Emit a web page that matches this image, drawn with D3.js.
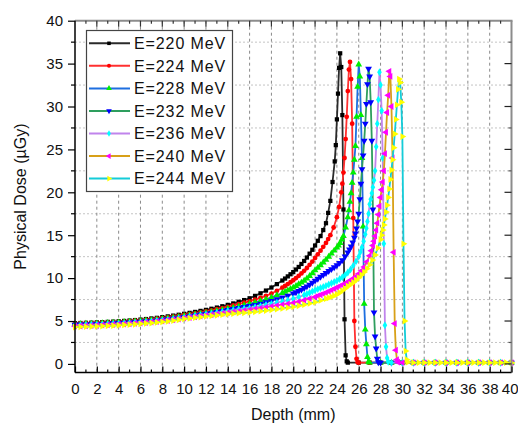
<!DOCTYPE html>
<html><head><meta charset="utf-8">
<script src="https://cdn.jsdelivr.net/npm/d3@7"></script>
<style>
html,body{margin:0;padding:0;background:#fff;}
svg text{font-family:"Liberation Sans",Arial,sans-serif;}
</style></head>
<body><svg id="c" width="518" height="426"></svg>
<script>
// ---------- data (depth mm, dose µGy) ----------
const energies = ["E=220 MeV","E=224 MeV","E=228 MeV","E=232 MeV","E=236 MeV","E=240 MeV","E=244 MeV"];
const xMajorTicks = [0,2,4,6,8,10,12,14,16,18,20,22,24,26,28,30,32,34,36,38,40];
const yMajorTicks = [0,5,10,15,20,25,30,35,40];

const e220 = [[0,4.75],[0.5,4.77],[1,4.79],[1.5,4.81],[2,4.84],[2.5,4.87],[3,4.9],[3.5,4.93],[4,4.97],[4.5,5.01],[5,5.06],[5.5,5.11],[6,5.17],[6.5,5.23],[7,5.3],[7.5,5.37],[8,5.45],[8.5,5.54],[9,5.63],[9.5,5.73],[10,5.84],[10.5,5.95],[11,6.06],[11.5,6.18],[12,6.3],[12.5,6.43],[13,6.57],[13.5,6.72],[14,6.88],[14.5,7.05],[15,7.24],[15.5,7.44],[16,7.65],[16.5,7.93],[17,8.23],[17.5,8.55],[18,8.9],[18.5,9.3],[19,9.72],[19.25,9.95],[19.5,10.2],[19.75,10.45],[20,10.7],[20.25,11.0],[20.5,11.3],[20.75,11.65],[21,12.0],[21.25,12.4],[21.5,12.85],[21.75,13.3],[22,13.8],[22.25,14.35],[22.5,14.9],[22.75,15.6],[23,16.4],[23.2,17.6],[23.4,19.0],[23.6,21.2],[23.8,23.6],[23.9,25.5],[24,28.5],[24.1,31.5],[24.2,34.5],[24.3,36.2],[24.4,34.6],[24.5,29],[24.6,18],[24.7,5.2],[24.8,1.0],[24.9,0.3],[25,0.15],[26,0.15],[27,0.15],[28,0.15],[29,0.15],[30,0.15],[31,0.15],[32,0.15],[33,0.15],[34,0.15],[35,0.15],[36,0.15],[37,0.15],[38,0.15],[39,0.15],[40,0.15]];

const e224 = [[0,4.7],[0.5,4.72],[1,4.74],[1.5,4.76],[2,4.78],[2.5,4.81],[3,4.84],[3.5,4.87],[4,4.9],[4.5,4.94],[5,4.98],[5.5,5.03],[6,5.08],[6.5,5.14],[7,5.2],[7.5,5.27],[8,5.34],[8.5,5.42],[9,5.5],[9.5,5.6],[10,5.7],[10.5,5.8],[11,5.9],[11.5,6.01],[12,6.12],[12.5,6.24],[13,6.37],[13.5,6.51],[14,6.66],[14.5,6.81],[15,6.97],[15.5,7.13],[16,7.3],[16.5,7.49],[17,7.7],[17.5,7.94],[18,8.2],[18.5,8.52],[19,8.88],[19.25,9.08],[19.5,9.3],[19.75,9.52],[20,9.75],[20.25,10.0],[20.5,10.27],[20.75,10.55],[21,10.85],[21.25,11.18],[21.5,11.55],[21.75,11.93],[22,12.35],[22.25,12.77],[22.5,13.2],[22.75,13.65],[23,14.1],[23.2,14.55],[23.4,15.0],[23.7,15.9],[24,17.1],[24.2,18.3],[24.4,20.0],[24.5,21.0],[24.6,22.3],[24.7,24.0],[24.8,26.2],[24.9,28.8],[25,31.8],[25.1,34.3],[25.2,35.2],[25.3,33.2],[25.4,28],[25.5,17],[25.6,5],[25.7,2],[25.8,0.6],[25.9,0.2],[26,0.15],[27,0.15],[28,0.15],[29,0.15],[30,0.15],[31,0.15],[32,0.15],[33,0.15],[34,0.15],[35,0.15],[36,0.15],[37,0.15],[38,0.15],[39,0.15],[40,0.15]];

const e228 = [[0,4.64],[0.5,4.66],[1,4.68],[1.5,4.7],[2,4.72],[2.5,4.75],[3,4.78],[3.5,4.81],[4,4.84],[4.5,4.88],[5,4.92],[5.5,4.96],[6,5.01],[6.5,5.06],[7,5.11],[7.5,5.17],[8,5.24],[8.5,5.31],[9,5.39],[9.5,5.48],[10,5.58],[10.5,5.67],[11,5.76],[11.5,5.86],[12,5.96],[12.5,6.07],[13,6.18],[13.5,6.3],[14,6.43],[14.5,6.56],[15,6.7],[15.5,6.85],[16,7.0],[16.5,7.16],[17,7.34],[17.5,7.53],[18,7.75],[18.5,8.0],[19,8.27],[19.25,8.42],[19.5,8.57],[19.75,8.73],[20,8.9],[20.25,9.08],[20.5,9.28],[20.75,9.48],[21,9.7],[21.25,9.96],[21.5,10.25],[21.75,10.56],[22,10.9],[22.25,11.2],[22.5,11.5],[22.75,11.82],[23,12.15],[23.25,12.5],[23.5,12.85],[23.75,13.2],[24,13.55],[24.15,13.8],[24.3,14.1],[24.45,14.5],[24.6,14.9],[24.8,15.9],[25,17.1],[25.1,17.9],[25.2,18.9],[25.3,19.9],[25.4,21.1],[25.5,22.3],[25.6,23.8],[25.7,25.4],[25.8,28.8],[25.9,32.3],[26,34.9],[26.1,33.5],[26.2,29],[26.3,24],[26.4,16],[26.5,7],[26.6,4],[26.7,2.3],[26.8,0.8],[26.9,0.25],[27,0.15],[28,0.15],[29,0.15],[30,0.15],[31,0.15],[32,0.15],[33,0.15],[34,0.15],[35,0.15],[36,0.15],[37,0.15],[38,0.15],[39,0.15],[40,0.15]];

const e232 = [[0,4.57],[0.5,4.59],[1,4.61],[1.5,4.63],[2,4.65],[2.5,4.67],[3,4.7],[3.5,4.73],[4,4.76],[4.5,4.79],[5,4.83],[5.5,4.87],[6,4.91],[6.5,4.96],[7,5.01],[7.5,5.07],[8,5.15],[8.5,5.22],[9,5.3],[9.5,5.38],[10,5.47],[10.5,5.56],[11,5.65],[11.5,5.75],[12,5.85],[12.5,5.95],[13,6.06],[13.5,6.17],[14,6.28],[14.5,6.4],[15,6.52],[15.5,6.63],[16,6.75],[16.5,6.88],[17,7.02],[17.5,7.18],[18,7.35],[18.5,7.54],[19,7.74],[19.5,7.96],[20,8.2],[20.25,8.35],[20.5,8.5],[20.75,8.66],[21,8.84],[21.25,9.03],[21.5,9.24],[21.75,9.46],[22,9.7],[22.25,9.92],[22.5,10.15],[22.75,10.37],[23,10.6],[23.25,10.82],[23.5,11.05],[23.75,11.27],[24,11.5],[24.25,11.78],[24.5,12.1],[24.75,12.52],[25,13.0],[25.15,13.35],[25.3,13.7],[25.45,14.15],[25.6,14.7],[25.7,15.2],[25.8,15.8],[25.9,16.6],[26,17.5],[26.1,19.2],[26.2,21],[26.3,22.7],[26.4,24.3],[26.5,26],[26.6,28],[26.7,30.3],[26.8,32.6],[26.9,34.4],[27,33.5],[27.1,30.5],[27.2,26],[27.3,18],[27.4,6],[27.5,3.2],[27.6,1.8],[27.7,0.6],[27.8,0.2],[28,0.15],[29,0.15],[30,0.15],[31,0.15],[32,0.15],[33,0.15],[34,0.15],[35,0.15],[36,0.15],[37,0.15],[38,0.15],[39,0.15],[40,0.15]];

const e236 = [[0,4.5],[0.5,4.52],[1,4.54],[1.5,4.56],[2,4.58],[2.5,4.6],[3,4.63],[3.5,4.66],[4,4.69],[4.5,4.72],[5,4.76],[5.5,4.8],[6,4.84],[6.5,4.89],[7,4.94],[7.5,5.0],[8,5.06],[8.5,5.13],[9,5.2],[9.5,5.3],[10,5.4],[10.5,5.49],[11,5.58],[11.5,5.67],[12,5.76],[12.5,5.86],[13,5.96],[13.5,6.06],[14,6.16],[14.5,6.26],[15,6.36],[15.5,6.43],[16,6.5],[16.5,6.62],[17,6.74],[17.5,6.87],[18,7.0],[18.5,7.14],[19,7.28],[19.5,7.43],[20,7.6],[20.5,7.8],[21,8.02],[21.25,8.15],[21.5,8.3],[21.75,8.45],[22,8.6],[22.25,8.72],[22.5,8.85],[22.75,8.97],[23,9.1],[23.25,9.25],[23.5,9.4],[23.75,9.55],[24,9.7],[24.25,9.9],[24.5,10.1],[24.75,10.35],[25,10.65],[25.25,11.0],[25.5,11.45],[25.75,11.95],[26,12.5],[26.15,13.05],[26.3,13.6],[26.45,14.3],[26.6,15.1],[26.7,15.8],[26.8,16.6],[26.9,17.5],[27,18.6],[27.1,19.2],[27.2,19.9],[27.3,20.6],[27.4,21.4],[27.5,22.5],[27.6,25.3],[27.7,28],[27.8,30.8],[27.9,34.0],[28,32.5],[28.1,29.5],[28.2,24],[28.3,14],[28.4,4.5],[28.5,2],[28.6,0.7],[28.7,0.25],[29,0.15],[30,0.15],[31,0.15],[32,0.15],[33,0.15],[34,0.15],[35,0.15],[36,0.15],[37,0.15],[38,0.15],[39,0.15],[40,0.15]];

const e240 = [[0,4.4],[0.5,4.42],[1,4.44],[1.5,4.46],[2,4.48],[2.5,4.51],[3,4.54],[3.5,4.57],[4,4.6],[4.5,4.64],[5,4.68],[5.5,4.72],[6,4.77],[6.5,4.82],[7,4.87],[7.5,4.93],[8,4.99],[8.5,5.06],[9,5.13],[9.5,5.23],[10,5.33],[10.5,5.41],[11,5.49],[11.5,5.57],[12,5.65],[12.5,5.73],[13,5.81],[13.5,5.89],[14,5.97],[14.5,6.06],[15,6.14],[15.5,6.22],[16,6.3],[16.5,6.4],[17,6.5],[17.5,6.6],[18,6.7],[18.5,6.8],[19,6.9],[19.5,7.0],[20,7.1],[20.5,7.26],[21,7.43],[21.5,7.61],[22,7.8],[22.25,7.92],[22.5,8.05],[22.75,8.17],[23,8.3],[23.25,8.45],[23.5,8.6],[23.75,8.75],[24,8.9],[24.25,9.05],[24.5,9.2],[24.75,9.37],[25,9.55],[25.25,9.75],[25.5,9.95],[25.75,10.2],[26,10.5],[26.25,10.85],[26.5,11.3],[26.75,11.9],[27,12.6],[27.15,13.2],[27.3,13.8],[27.4,14.3],[27.5,14.9],[27.6,15.6],[27.7,16.4],[27.8,17.4],[27.9,18.4],[28,19.4],[28.1,20.3],[28.2,21.2],[28.3,22.5],[28.4,24.5],[28.5,27],[28.6,29.3],[28.7,31.3],[28.8,34.1],[28.9,33.5],[29,30],[29.1,24],[29.2,13],[29.3,4.7],[29.4,1.6],[29.5,0.5],[29.6,0.2],[30,0.15],[31,0.15],[32,0.15],[33,0.15],[34,0.15],[35,0.15],[36,0.15],[37,0.15],[38,0.15],[39,0.15],[40,0.15]];

const e244 = [[0,4.3],[0.5,4.32],[1,4.34],[1.5,4.36],[2,4.38],[2.5,4.41],[3,4.44],[3.5,4.47],[4,4.5],[4.5,4.54],[5,4.58],[5.5,4.62],[6,4.67],[6.5,4.72],[7,4.77],[7.5,4.83],[8,4.89],[8.5,4.96],[9,5.05],[9.5,5.15],[10,5.25],[10.5,5.32],[11,5.39],[11.5,5.46],[12,5.53],[12.5,5.6],[13,5.67],[13.5,5.74],[14,5.8],[14.5,5.86],[15,5.92],[15.5,5.96],[16,6.0],[16.5,6.07],[17,6.15],[17.5,6.22],[18,6.3],[18.5,6.38],[19,6.47],[19.5,6.56],[20,6.65],[20.5,6.78],[21,6.91],[21.5,7.05],[22,7.2],[22.5,7.4],[23,7.6],[23.25,7.71],[23.5,7.82],[23.75,7.95],[24,8.1],[24.25,8.3],[24.5,8.55],[24.75,8.8],[25,9.05],[25.25,9.27],[25.5,9.5],[25.75,9.75],[26,10.05],[26.25,10.37],[26.5,10.7],[26.75,11.1],[27,11.55],[27.25,12.1],[27.5,12.7],[27.75,13.5],[28,14.5],[28.1,15.0],[28.2,15.6],[28.3,16.2],[28.4,16.9],[28.5,17.7],[28.6,18.5],[28.7,19.4],[28.8,20.4],[28.9,21.5],[29,22.6],[29.1,23.8],[29.2,25.2],[29.3,26.8],[29.4,28.5],[29.5,30.2],[29.6,32],[29.7,33.2],[29.8,32.8],[29.9,30.5],[30,26.5],[30.1,14],[30.2,5],[30.3,1.5],[30.4,0.5],[30.5,0.2],[31,0.15],[31.5,0.15],[32,0.15],[32.5,0.15],[33,0.15],[33.5,0.15],[34,0.15],[34.5,0.15],[35,0.15],[35.5,0.15],[36,0.15],[36.5,0.15],[37,0.15],[37.5,0.15],[38,0.15],[38.5,0.15],[39,0.15],[39.5,0.15],[40,0.15]];

const seriesData = [e220,e224,e228,e232,e236,e240,e244];
const lineColors = ["#2a2a2a","#ff3030","#1e6fe0","#2e9e5e","#c084ec","#d8a018","#14ccd8"];
const markerColors = ["#000000","#ff0000","#00ee00","#0000ff","#00ffff","#ff00ff","#ffff00"];
const markerShapes = ["square","circle","up","down","diamond","left","right"];

// ---------- layout ----------
const svg = d3.select("#c");
const L = 75, R = 511.5, T = 20.7, B = 372.5;
const x = d3.scaleLinear().domain([0,40]).range([L,R]);
const y = d3.scaleLinear().domain([-1,40]).range([B,T]);

// grid
const xMinor = d3.range(1,40,2);
const yMinor = d3.range(2.5,40,5);
svg.append("g").selectAll("line").data(yMinor).join("line")
  .attr("x1",L).attr("x2",R).attr("y1",d=>y(d)).attr("y2",d=>y(d))
  .attr("stroke","#c4c4c4").attr("stroke-width",1).attr("stroke-dasharray","2,2");
svg.append("g").selectAll("line").data(xMajorTicks.filter(d=>d>0&&d<40)).join("line")
  .attr("x1",d=>x(d)).attr("x2",d=>x(d)).attr("y1",T).attr("y2",B)
  .attr("stroke","#8a8a8a").attr("stroke-width",1).attr("stroke-dasharray","3,3");

// curves
function symbolPath(shape, scale){
  const map = {square:d3.symbolSquare,circle:d3.symbolCircle,up:d3.symbolTriangle,down:d3.symbolTriangle,diamond:d3.symbolDiamond,left:d3.symbolTriangle,right:d3.symbolTriangle};
  const size = {square:18,circle:18,up:20,down:20,diamond:18,left:20,right:20}[shape]*(scale||1);
  return d3.symbol().type(map[shape]).size(size)();
}
function symbolRot(shape){
  return {down:180,left:-90,right:90}[shape] || 0;
}
const line = d3.line().x(d=>x(d[0])).y(d=>y(d[1]));
const plot = svg.append("g");
seriesData.forEach((data,i)=>{
  const g = plot.append("g");
  g.append("path").datum(data).attr("d",line).attr("fill","none")
    .attr("stroke",lineColors[i]).attr("stroke-width",1.8).attr("stroke-linejoin","round");
  const p = symbolPath(markerShapes[i]), r = symbolRot(markerShapes[i]);
  g.selectAll("path.m").data(data).join("path").attr("class","m")
    .attr("d",p).attr("fill",markerColors[i])
    .attr("transform",d=>`translate(${x(d[0])},${y(d[1])}) rotate(${r})`);
});

// axes
const fontTick = "15px";
const ax = svg.append("g");
ax.append("line").attr("x1",L).attr("x2",R+1).attr("y1",T).attr("y2",T).attr("stroke","#8c8c8c").attr("stroke-width",2);
ax.append("line").attr("x1",R).attr("x2",R).attr("y1",T).attr("y2",B).attr("stroke","#8c8c8c").attr("stroke-width",2);
ax.append("g").selectAll("line").data(xMajorTicks.filter(d=>d>0&&d<40)).join("line")
  .attr("x1",d=>x(d)).attr("x2",d=>x(d)).attr("y1",T).attr("y2",T+6).attr("stroke","#333").attr("stroke-width",1.2);
ax.append("g").selectAll("line").data(xMinor).join("line")
  .attr("x1",d=>x(d)).attr("x2",d=>x(d)).attr("y1",T).attr("y2",T+3).attr("stroke","#333").attr("stroke-width",1.2);
ax.append("g").selectAll("line").data(yMajorTicks.filter(d=>d<40)).join("line")
  .attr("x1",R-7).attr("x2",R).attr("y1",d=>y(d)).attr("y2",d=>y(d)).attr("stroke","#222").attr("stroke-width",1.2);
ax.append("g").selectAll("line").data(yMinor).join("line")
  .attr("x1",R-3).attr("x2",R).attr("y1",d=>y(d)).attr("y2",d=>y(d)).attr("stroke","#555").attr("stroke-width",1.2);

const xAxis = ax.append("g").attr("transform",`translate(0,${B})`)
  .call(d3.axisBottom(x).tickValues(xMajorTicks).tickFormat(d3.format("d")).tickSize(-6).tickPadding(11));
xAxis.append("g").selectAll("line").data(xMinor).join("line")
  .attr("x1",d=>x(d)).attr("x2",d=>x(d)).attr("y1",0).attr("y2",-3).attr("stroke","#000").attr("stroke-width",1.2);
const yAxis = ax.append("g").attr("transform",`translate(${L},0)`)
  .call(d3.axisLeft(y).tickValues(yMajorTicks).tickFormat(d3.format("d")).tickSize(7).tickPadding(5));
yAxis.append("g").selectAll("line").data(yMinor).join("line")
  .attr("x1",0).attr("x2",-4).attr("y1",d=>y(d)).attr("y2",d=>y(d)).attr("stroke","#000").attr("stroke-width",1.2);
[xAxis,yAxis].forEach(a=>{
  a.select(".domain").attr("stroke","#000").attr("stroke-width",1.5);
  a.selectAll(".tick line").attr("stroke","#000").attr("stroke-width",1.2);
  a.selectAll(".tick text").attr("font-size",fontTick).attr("fill","#111")
    .attr("font-family","'Liberation Sans',Arial,sans-serif");
});
xAxis.select(".domain").attr("d",`M${L},0H${R}`);
yAxis.select(".domain").attr("d",`M0,${B}V${T}`);
// keep the last x label inside the picture
xAxis.selectAll(".tick text").filter(d=>d===40).attr("text-anchor","end").attr("x",6.5);

// titles
svg.append("text").attr("x",(L+R)/2).attr("y",420).attr("text-anchor","middle")
  .attr("font-size","16px").attr("fill","#111").text("Depth (mm)");
svg.append("text").attr("transform",`translate(26,${(T+B)/2}) rotate(-90)`).attr("text-anchor","middle")
  .attr("font-size","16px").attr("fill","#111").text("Physical Dose (µGy)");

// legend
const lg = svg.append("g");
lg.append("rect").attr("x",86.5).attr("y",30.5).attr("width",146).attr("height",161)
  .attr("fill","#fff").attr("stroke","#444").attr("stroke-width",1.2);
energies.forEach((name,i)=>{
  const cy = 43.3 + i*22.55;
  lg.append("line").attr("x1",89).attr("x2",130).attr("y1",cy).attr("y2",cy)
    .attr("stroke",lineColors[i]).attr("stroke-width",2);
  lg.append("path").attr("d",symbolPath(markerShapes[i],0.7)).attr("fill",markerColors[i])
    .attr("transform",`translate(109,${cy}) rotate(${symbolRot(markerShapes[i])})`);
  lg.append("text").attr("x",134).attr("y",cy+5.8).attr("font-size","16px")
    .attr("letter-spacing","0.9px").attr("fill","#111").text(name);
});
</script></body></html>
